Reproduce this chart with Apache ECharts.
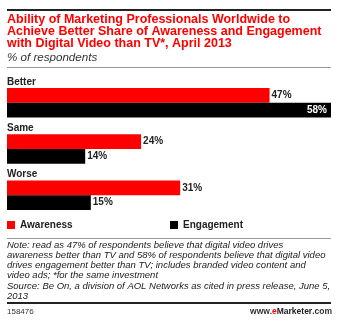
<!DOCTYPE html>
<html>
<head>
<meta charset="utf-8">
<script src="https://cdn.jsdelivr.net/npm/echarts@6/dist/echarts.min.js"></script>
<style>
  html, body { margin: 0; padding: 0; background: #fff; }
  #chart { width: 341px; height: 321px; }
</style>
</head>
<body>
<div id="chart"></div>
<script>
// Survey answers, top to bottom
const categories = ['Better', 'Same', 'Worse'];
const awareness = [47, 24, 31];
const engagement = [58, 14, 15];
const seriesNames = ['Awareness', 'Engagement'];

const titleText = 'Ability of Marketing Professionals Worldwide to\nAchieve Better Share of Awareness and Engagement\nwith Digital Video than TV*, April 2013';
const subtitleText = '% of respondents';
const noteText = 'Note: read as 47% of respondents believe that digital video drives\n' +
  'awareness better than TV and 58% of respondents believe that digital video\n' +
  'drives engagement better than TV; includes branded video content and\n' +
  'video ads; *for the same investment\n' +
  'Source: Be On, a division of AOL Networks as cited in press release, June 5,\n' +
  '2013';
const chartId = '158476';

const FONT = '"Liberation Sans", Arial, sans-serif';
const RED = '#ff0000';

const chart = echarts.init(document.getElementById('chart'), null, { renderer: 'canvas' });

const valueLabel = {
  show: true,
  position: 'right',
  distance: 2,
  formatter: p => p.value + '%',
  fontFamily: FONT,
  fontWeight: 'bold',
  fontSize: 10,
  color: '#222'
};

const legendBase = {
  padding: 0,
  itemWidth: 8, itemHeight: 8,
  itemTextGap: 4,
  icon: 'rect',
  top: 220,
  textStyle: { fontFamily: FONT, fontWeight: 'bold', fontSize: 10, color: '#222' }
};

chart.setOption({
  animation: false,
  backgroundColor: '#fff',
  title: [
    {
      text: titleText,
      left: 7, top: 14, padding: 0,
      textStyle: { fontFamily: FONT, fontWeight: 'bold', fontSize: 12.5, lineHeight: 12, color: RED }
    },
    {
      text: subtitleText,
      left: 7, top: 52, padding: 0,
      textStyle: { fontFamily: FONT, fontStyle: 'italic', fontWeight: 'normal', fontSize: 11.6, lineHeight: 12, color: '#333' }
    },
    {
      text: noteText,
      left: 7, top: 240.5, padding: 0,
      textStyle: { fontFamily: FONT, fontStyle: 'italic', fontWeight: 'normal', fontSize: 9.5, lineHeight: 10.1, color: '#222' }
    },
    {
      text: chartId,
      left: 7, top: 308, padding: 0,
      textStyle: { fontFamily: FONT, fontWeight: 'normal', fontSize: 8, lineHeight: 8, color: '#333' }
    },
    {
      text: '{n|www.}{e|e}{m|Marketer}{n|.com}',
      right: 9, top: 308, padding: 0,
      textStyle: {
        rich: {
          n: { fontFamily: FONT, fontSize: 8.5, color: '#333', lineHeight: 8 },
          e: { fontFamily: FONT, fontSize: 8.5, fontWeight: 'bold', color: RED, lineHeight: 8 },
          m: { fontFamily: FONT, fontSize: 8.5, fontWeight: 'bold', color: '#222', lineHeight: 8 }
        }
      }
    }
  ],
  legend: [
    Object.assign({}, legendBase, { left: 7, data: [seriesNames[0]] }),
    Object.assign({}, legendBase, { left: 170, data: [seriesNames[1]] })
  ],
  grid: { left: 7, right: 10, top: 79.7, bottom: 102.7, containLabel: false },
  xAxis: {
    type: 'value', min: 0, max: 58,
    show: false
  },
  yAxis: {
    type: 'category',
    inverse: true,
    data: categories,
    axisLine: { show: false },
    axisTick: { show: false },
    splitLine: { show: false },
    axisLabel: {
      show: true,
      interval: 0,
      inside: true,
      margin: 0,
      align: 'left',
      verticalAlign: 'bottom',
      padding: [0, 0, 16, 0],
      fontFamily: FONT, fontWeight: 'bold', fontSize: 10, color: '#222'
    }
  },
  series: [
    {
      name: seriesNames[0], type: 'bar',
      data: awareness,
      barWidth: 14.7, barGap: '0%',
      itemStyle: { color: RED },
      label: valueLabel
    },
    {
      name: seriesNames[1], type: 'bar',
      data: engagement.map((v, i) => i === 0
        ? { value: v, label: { position: 'insideRight', color: '#fff', distance: 4 } }
        : v),
      barWidth: 14.7, barGap: '0%',
      itemStyle: { color: '#000' },
      label: valueLabel
    }
  ],
  graphic: [
    { type: 'line', shape: { x1: 7, y1: 10, x2: 331, y2: 10 }, style: { stroke: '#222', lineWidth: 2 } },
    { type: 'line', shape: { x1: 7, y1: 67.5, x2: 331, y2: 67.5 }, style: { stroke: '#999', lineWidth: 1 } },
    { type: 'line', shape: { x1: 7, y1: 238.5, x2: 331, y2: 238.5 }, style: { stroke: '#999', lineWidth: 1 } },
    { type: 'line', shape: { x1: 7, y1: 303, x2: 331, y2: 303 }, style: { stroke: '#222', lineWidth: 2 } }
  ]
});
</script>
</body>
</html>
